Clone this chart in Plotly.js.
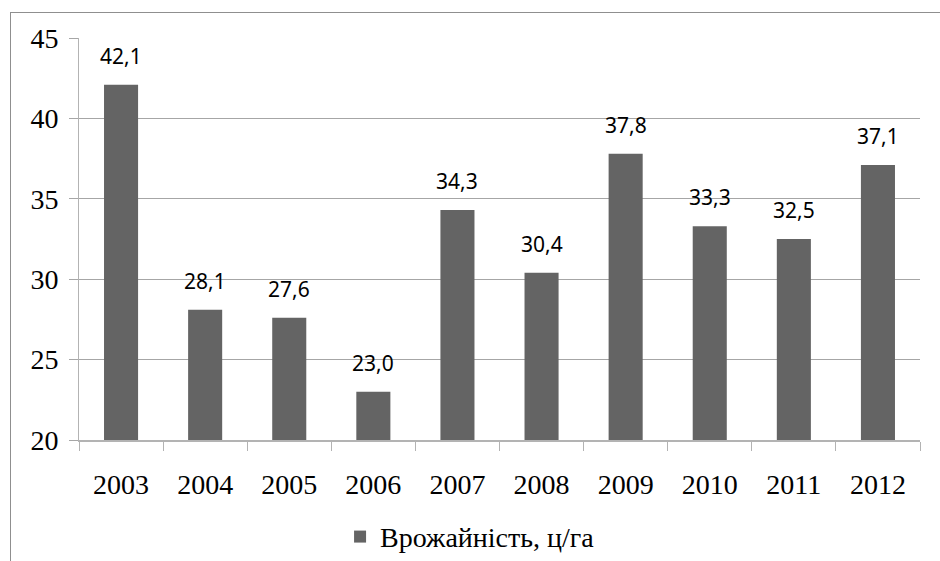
<!DOCTYPE html>
<html>
<head>
<meta charset="utf-8">
<script src="https://cdn.plot.ly/plotly-3.0.1.min.js"></script>
<style>
html,body{margin:0;padding:0;background:#fff;}
#wrap{position:relative;width:940px;height:561px;overflow:hidden;}
#chart{width:940px;height:561px;}
#frame{position:absolute;left:10px;top:12px;width:960px;height:600px;border-left:1px solid #8f8f8f;border-top:1px solid #8f8f8f;pointer-events:none;}
</style>
</head>
<body>
<div id="wrap"><div id="chart"></div><div id="frame"></div></div>
<script>
const years = ['2003','2004','2005','2006','2007','2008','2009','2010','2011','2012'];
const yieldValues = [42.1, 28.1, 27.6, 23.0, 34.3, 30.4, 37.8, 33.3, 32.5, 37.1];
const seriesName = 'Врожайність, ц/га';
const yTicks = [20, 25, 30, 35, 40, 45];

const labelFont = {family: 'Noto Sans', size: 21, color: '#000'};
const serif = '"Liberation Serif", "Times New Roman", serif';

const annotations = years.map((yr, i) => ({
  x: i, y: yieldValues[i], xref: 'x', yref: 'y',
  text: yieldValues[i].toFixed(1).replace('.', ','),
  showarrow: false, yanchor: 'bottom', yshift: 13,
  font: labelFont
}));

const trace = {
  type: 'bar', x: years, y: yieldValues, name: seriesName,
  marker: {color: '#646464', line: {width: 0}},
  showlegend: true, hoverinfo: 'none'
};

const layout = {
  width: 940, height: 561,
  margin: {l: 79, r: 20, t: 38, b: 121},
  paper_bgcolor: '#fff', plot_bgcolor: '#fff',
  bargap: 0.595,
  showlegend: true,
  legend: {orientation: 'h', xref: 'paper', x: 0.465, xanchor: 'center',
           yref: 'container', y: 0.043, yanchor: 'middle',
           font: {family: serif, size: 28, color: '#000'}},
  xaxis: {
    type: 'category', range: [-0.5, years.length - 0.5], autorange: false,
    showline: true, linecolor: '#b3b3b3', linewidth: 2,
    ticks: 'outside', tickson: 'boundaries', ticklen: 9, tickcolor: '#b3b3b3', tickwidth: 1,
    ticklabelstandoff: 18,
    showgrid: false, zeroline: false, automargin: false,
    tickfont: {family: serif, size: 28, color: '#000'}
  },
  yaxis: {
    range: [20, 45], autorange: false, tickmode: 'array', tickvals: yTicks, ticktext: yTicks.map(String),
    showline: true, linecolor: '#b3b3b3', linewidth: 1,
    ticks: 'outside', ticklen: 9, tickcolor: '#a6a6a6', tickwidth: 1,
    ticklabelstandoff: 5, automargin: false,
    showgrid: true, gridcolor: '#a6a6a6', gridwidth: 1, zeroline: false,
    tickfont: {family: serif, size: 28, color: '#000'}
  },
  annotations: annotations
};

Plotly.newPlot('chart', [trace], layout, {displayModeBar: false, staticPlot: true});
</script>
</body>
</html>
